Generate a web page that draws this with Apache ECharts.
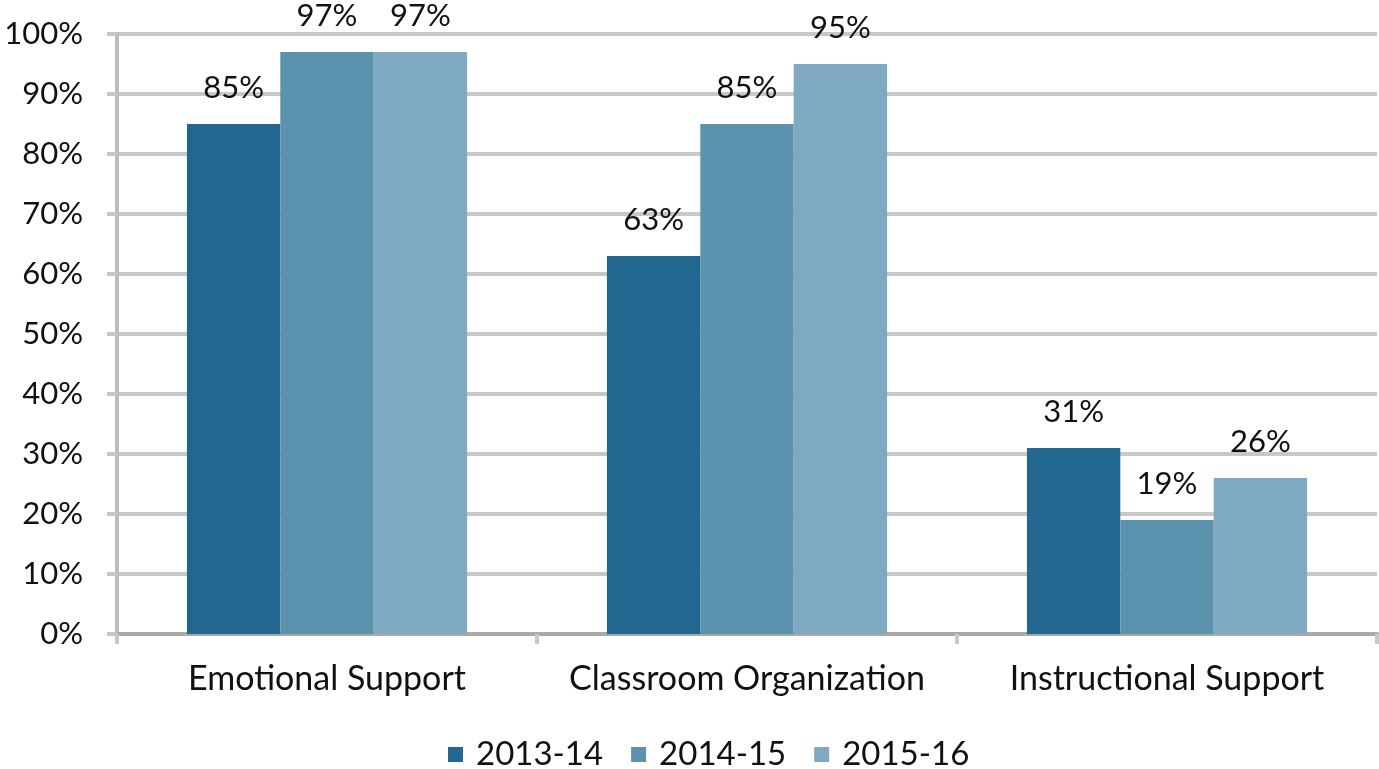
<!DOCTYPE html>
<html>
<head>
<meta charset="utf-8">
<script src="https://cdn.jsdelivr.net/npm/echarts@6/dist/echarts.min.js"></script>
<style>
  html, body { margin: 0; padding: 0; background: #fff; }
  #chart { width: 1379px; height: 769px; }
</style>
</head>
<body>
<div id="chart"></div>
<script>
const categories = ['Emotional Support', 'Classroom Organization', 'Instructional Support']
const years = ['2013-14', '2014-15', '2015-16']
const values2013 = [85, 63, 31]
const values2014 = [97, 85, 19]
const values2015 = [97, 95, 26]
const colors = ['#22678F', '#5B92AE', '#7EA9C0']

const font = 'Lato, "Open Sans", sans-serif'
const textColor = '#111'

const chart = echarts.init(document.getElementById('chart'))

const seriesData = [values2013, values2014, values2015]

chart.setOption({
  animation: false,
  textStyle: { fontFamily: font },
  grid: { left: 117, right: 2, top: 34, bottom: 135 },
  legend: {
    data: years,
    top: 733,
    left: 443,
    itemWidth: 15,
    itemHeight: 15,
    itemGap: 28,
    icon: 'rect',
    textStyle: { fontSize: 33, color: textColor, fontFamily: font, padding: [0, 0, 0, 8] }
  },
  xAxis: {
    type: 'category',
    data: categories,
    axisLine: { lineStyle: { color: '#A9A9A9', width: 4 } },
    axisTick: { show: true, length: 10, lineStyle: { color: '#C8C8C8', width: 4 } },
    axisLabel: { interval: 0, fontSize: 34, color: textColor, margin: 28, fontFamily: font }
  },
  yAxis: {
    type: 'value',
    min: 0,
    max: 100,
    interval: 10,
    axisLine: { show: true, lineStyle: { color: '#BDBDBD', width: 4 } },
    axisTick: { show: true, length: 10, lineStyle: { color: '#C8C8C8', width: 4 } },
    splitLine: { lineStyle: { color: '#C8C8C8', width: 4 } },
    axisLabel: { fontSize: 31, color: textColor, margin: 34, formatter: '{value}%', fontFamily: font }
  },
  series: years.map((y, i) => ({
    name: y,
    type: 'bar',
    data: seriesData[i],
    barGap: '0%',
    barCategoryGap: '33.3%',
    itemStyle: { color: colors[i] },
    label: {
      show: true,
      position: 'top',
      distance: 21,
      formatter: '{c}%',
      fontSize: 31,
      color: textColor,
      fontFamily: font
    }
  }))
})
</script>
</body>
</html>
